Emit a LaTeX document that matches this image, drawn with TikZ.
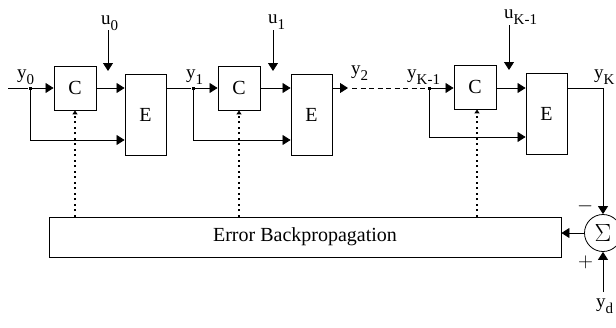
\documentclass[tikz,border=0pt]{standalone}
\usepackage{fontspec}
\setmainfont{Liberation Serif}
\usetikzlibrary{arrows.meta,positioning}
\newcommand{\sigsub}[2]{#1\raisebox{-0.36em}{\fontsize{15}{15}\selectfont #2}}

\begin{document}
\begin{tikzpicture}[
  x=1pt, y=-1pt,
  block/.style={draw, line width=0.9pt, inner sep=0pt, font=\fontsize{20}{24}\selectfont},
  cbox/.style={block, minimum width=42pt, minimum height=44pt},
  ebox/.style={block, minimum width=41pt, minimum height=81pt},
  arrow/.style={-{Triangle[length=8pt,width=10pt]}, line width=0.8pt},
  dotline/.style={line width=1.8pt, dash pattern=on 2pt off 3.5pt,
                  -{Triangle[length=4pt,width=5pt]}},
  dashline/.style={line width=0.7pt, dash pattern=on 5pt off 3.5pt},
  tap/.style={rectangle, fill, inner sep=0pt, minimum size=3pt},
  lbl/.style={font=\fontsize{19}{22}\selectfont, inner sep=0pt, anchor=base west}
]
\useasboundingbox (0,0) rectangle (616,327);

\node[cbox] (c1) at (75,88) {C};
\node[cbox] (c2) at (239,88) {C};
\node[cbox] (c3) at (475,87) {C};

\node[ebox] (e1) at (145.5,115) {E};
\node[ebox] (e2) at (311.5,115) {E};
\node[ebox] (e3) at (546.5,114) {E};

\node[block, minimum width=512pt, minimum height=40pt] (err) at (305,237)
  {Error Backpropagation};
\node[draw, circle, line width=0.8pt, minimum size=37pt, inner sep=0pt,
      font=\fontsize{25}{28}\selectfont] (sum) at (603,233) {$\Sigma$};

\node[tap] (t0) at (30,88) {};
\node[tap] (t1) at (193,88) {};
\node[tap] (t2) at (429,88) {};
\coordinate (in0) at (8,88);
\coordinate (y2tip) at (348,88);
\coordinate (y2dash) at (352,88);
\coordinate (yd0) at (603,292);

\node[lbl] (y0) at (17,78) {\sigsub{y}{0}};
\node[lbl] (y1) at (186,78) {\sigsub{y}{1}};
\node[lbl] (y2) at (351,74) {\sigsub{y}{2}};
\node[lbl] (yk1) at (407,78) {\sigsub{y}{K-1}};
\node[lbl] (yk) at (594,78) {\sigsub{y}{K}};
\node[lbl] (yd) at (596,307) {\sigsub{y}{d}};
\node[lbl] (u0) at (101,24) {\sigsub{u}{0}};
\node[lbl] (u1) at (268,23) {\sigsub{u}{1}};
\node[lbl] (uk1) at (504,18) {\sigsub{u}{K-1}};
\node[lbl, font=\fontsize{21}{24}\selectfont] (minus) at (577,211) {$-$};
\node[lbl, font=\fontsize{21}{24}\selectfont] (plus) at (578,267) {$+$};

\coordinate (u0s) at (108,30);
\coordinate (u1s) at (273,30);
\coordinate (uk1s) at (509,25);

\draw[arrow] (u0s) -- (108,71);
\draw[arrow] (u1s) -- (273,71);
\draw[arrow] (uk1s) -- (509,70);

\draw[line width=0.8pt] (in0) -- (t0);
\draw[arrow] (t0) -- (c1);
\draw[arrow] (c1.east) -- (c1.east -| e1.west);
\draw[arrow] (t0) |- ([yshift=-25pt]e1.west);
\draw[line width=0.8pt] (e1.east |- t1) -- (t1);

\draw[arrow] (t1) -- (c2);
\draw[arrow] (c2.east) -- (c2.east -| e2.west);
\draw[arrow] (t1) |- ([yshift=-25pt]e2.west);
\draw[arrow] (e2.east |- t1) -- (y2tip);
\draw[dashline] (y2dash) -- (t2);

\draw[arrow] (t2) -- (c3.west |- t2);
\draw[arrow] (c3.east |- t2) -- (e3.west |- t2);
\draw[arrow] (t2) |- ([yshift=-23pt]e3.west);
\draw[arrow] (e3.east |- t2) -| (sum.north);

\draw[arrow] (yd0) -- (sum.south);
\draw[arrow] (sum.west) -- (sum.west -| err.east);

\draw[dotline] (c1.south |- err.north) -- (c1.south);
\draw[dotline] (c2.south |- err.north) -- (c2.south);
\draw[dotline] ([xshift=2pt]c3.south |- err.north) -- ([xshift=2pt]c3.south);
\end{tikzpicture}
\end{document}
